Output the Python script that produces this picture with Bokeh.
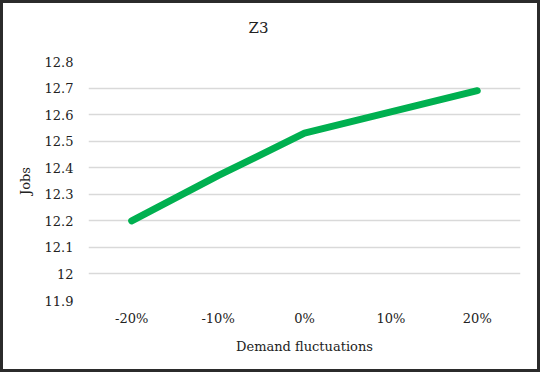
from bokeh.plotting import figure
from bokeh.embed import file_html
from bokeh.resources import INLINE
from bokeh.models import Range1d, FixedTicker, Title

categories = ["-20%", "-10%", "0%", "10%", "20%"]
jobs = [12.2, 12.37, 12.53, 12.61, 12.69]
y_ticks = [11.9, 12.0, 12.1, 12.2, 12.3, 12.4, 12.5, 12.6, 12.7, 12.8]
y_labels = ["11.9", "12", "12.1", "12.2", "12.3", "12.4", "12.5", "12.6", "12.7", "12.8"]
chart_title = "Z3"

FONT = "DejaVu Serif"

p = figure(width=540, height=372, x_range=categories, y_range=Range1d(11.9, 12.8),
           output_backend="svg", toolbar_location=None,
           min_border_left=85, min_border_right=23, min_border_top=58, min_border_bottom=75)

p.styles = {"border": "3px solid #2b2b2b", "box-sizing": "border-box"}

p.line(categories, jobs, line_color="#00b050", line_width=7, line_cap="round", line_join="round")

# spacer between frame and title (closest to the frame)
p.add_layout(Title(text=" ", text_font_size="10px", standoff=12), "above")
# main title
p.add_layout(Title(text=chart_title, text_font=FONT, text_font_size="15px",
                   text_font_style="normal", text_color="#222222",
                   align="left", offset=160, standoff=0), "above")

p.outline_line_color = None
p.xgrid.grid_line_color = None
p.ygrid.grid_line_color = "#d9d9d9"
p.ygrid.grid_line_width = 1.5

p.yaxis.ticker = FixedTicker(ticks=y_ticks)
p.yaxis.major_label_overrides = dict(zip(y_ticks, y_labels))

for ax in (p.xaxis[0], p.yaxis[0]):
    ax.axis_line_color = None
    ax.major_tick_line_color = None
    ax.minor_tick_line_color = None
    ax.major_label_text_font = FONT
    ax.major_label_text_font_size = "13px"
    ax.major_label_text_color = "#222222"
    ax.axis_label_text_font = FONT
    ax.axis_label_text_font_size = "13px"
    ax.axis_label_text_font_style = "normal"
    ax.axis_label_text_color = "#222222"

p.xaxis.axis_label = "Demand fluctuations"
p.yaxis.axis_label = "Jobs"
p.xaxis.major_label_standoff = 4
p.xaxis.axis_label_standoff = 10
p.yaxis.major_label_standoff = 9
p.yaxis.axis_label_standoff = 9

open("out.html", "w").write(file_html(p, INLINE))
